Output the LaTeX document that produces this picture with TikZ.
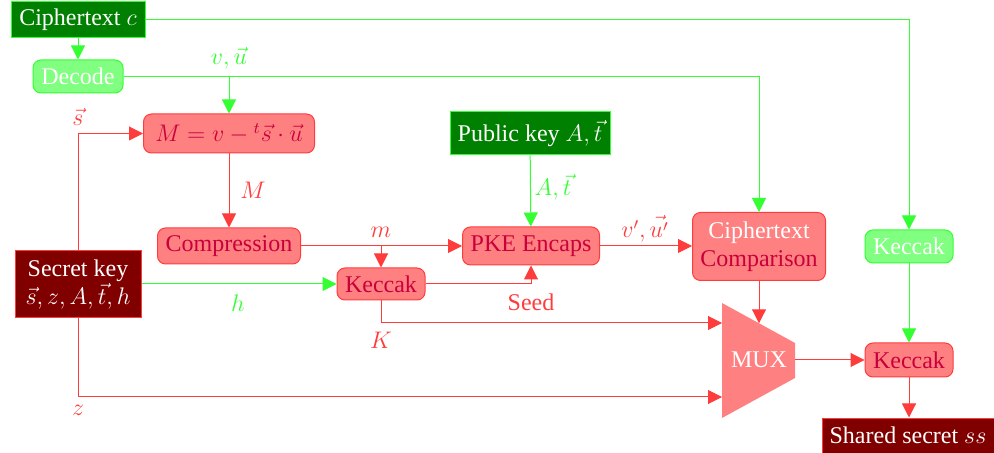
\documentclass[tikz,border=0pt]{standalone}
\usepackage{fontspec}
\setmainfont{Liberation Serif}[Ligatures=TeX]
\usetikzlibrary{arrows.meta,calc}
\definecolor{rline}{RGB}{255,60,60}
\definecolor{rfill}{RGB}{255,128,128}
\definecolor{rtext}{RGB}{200,0,60}
\definecolor{gline}{RGB}{51,255,51}
\definecolor{gfill}{RGB}{128,255,128}
\definecolor{gdark}{RGB}{0,128,0}
\definecolor{rdark}{RGB}{128,0,0}
\begin{document}
\begin{tikzpicture}[x=0.5pt,y=-0.5pt,font=\rmfamily\fontsize{12}{14}\selectfont,
  box/.style={line width=0.5pt,inner sep=0pt,align=center},
  redbox/.style={box,draw=rline,fill=rfill,text=rtext,rounded corners=4pt},
  greenbox/.style={box,draw=gline,fill=gfill,text=white,rounded corners=4pt},
  gkey/.style={box,draw=gline,fill=gdark,text=white},
  rkey/.style={box,draw=rline,fill=rdark,text=white},
  tip/.style={-{Triangle[length=7pt,width=7pt]}},
  rarr/.style={draw=rline,line width=0.5pt,tip},
  garr/.style={draw=gline,line width=0.5pt,tip},
  rlab/.style={text=rline,inner sep=0pt},
  glab/.style={text=gline,inner sep=0pt}]
\useasboundingbox (0,0) rectangle (994,453);

% blocks
\node[gkey,minimum width=67pt,minimum height=18pt] (ct) at (78,20) {Ciphertext $c$};
\node[greenbox,minimum width=45pt,minimum height=16.5pt] (dec) at (78,76.5) {Decode};
\node[redbox,minimum width=85.5pt,minimum height=19.5pt] (mm) at (229,133.5) {$M = v - {}^t\vec{s}\cdot\vec{u}$};
\node[gkey,minimum width=80pt,minimum height=21.5pt] (pub) at (530,133.5) {Public key $A,\vec{t}$};
\node[redbox,minimum width=71.5pt,minimum height=18pt] (cmp) at (229,246) {Compression};
\node[redbox,minimum width=68.5pt,minimum height=19pt] (pke) at (531,246) {PKE Encaps};
\node[redbox,minimum width=44pt,minimum height=16pt] (kc) at (381,284) {Keccak};
\node[rkey,minimum width=63pt,minimum height=33.5pt] (sk) at (78,284.5) {Secret key\\$\vec{s},z,A,\vec{t},h$};
\node[redbox,minimum width=66.5pt,minimum height=34pt] (cc) at (759,246.5) {\textcolor{white}{Ciphertext}\\Comparison};
\node[greenbox,minimum width=44pt,minimum height=16.5pt] (gk) at (909,246.5) {Keccak};
\node[redbox,minimum width=44pt,minimum height=17pt] (kb) at (909,360) {Keccak};
\node[rkey,minimum width=86pt,minimum height=17.5pt] (ss) at (908,435.5) {Shared secret $ss$};

% multiplexer
\coordinate (muxtop) at (759,323.3);
\coordinate (muxin1) at (722,323);
\coordinate (muxin2) at (722,397);
\coordinate (muxout) at (795,360);
\fill[rfill] (722,303) -- (795,343) -- (795,378) -- (722,418) -- cycle;
\node[text=white] (mux) at (759,360) {MUX};

% connectors
\draw[garr] (ct) -- (dec);
\draw[garr] (ct.east) -| (gk.north);
\draw[garr] (dec.east) -| (cc.north);
\draw[garr] (mm.north |- dec.east) -- (mm.north);
\draw[rarr] (sk.north) |- (mm.west);
\draw[rarr] (mm) -- (cmp);
\draw[rarr] (cmp.east) -- (pke.west);
\draw[rarr] (cmp.east -| kc.north) -- (kc.north);
\draw[garr] (sk.east |- kc.west) -- (kc.west);
\draw[rarr] (kc.east) -| (pke.south);
\draw[rarr] (kc.south) |- (muxin1);
\draw[rarr] (sk.south) |- (muxin2);
\draw[garr] (pub) -- (pke);
\draw[rarr] (pke.east) -- (pke.east -| cc.west);
\draw[rarr] (cc.south) -- (muxtop);
\draw[rarr] (muxout) -- (muxout -| kb.west);
\draw[garr] (gk) -- (kb);
\draw[rarr] (kb) -- (ss.north -| kb.south);

% labels
\node[glab] (lvu) at (229,58) {$v,\vec{u}$};
\node[rlab] (ls) at (78,117) {$\vec{s}$};
\node[rlab] (lM) at (253,190) {$M$};
\node[rlab] (lm) at (381,232) {$m$};
\node[glab] (lh) at (238,303) {$h$};
\node[rlab] (lseed) at (531,302) {Seed};
\node[rlab] (lK) at (381,340) {$K$};
\node[rlab] (lz) at (78,410) {$z$};
\node[glab] (lAt) at (553,187) {$A,\vec{t}$};
\node[rlab] (lvu2) at (645,229) {$v',\vec{u'}$};
\end{tikzpicture}
\end{document}
